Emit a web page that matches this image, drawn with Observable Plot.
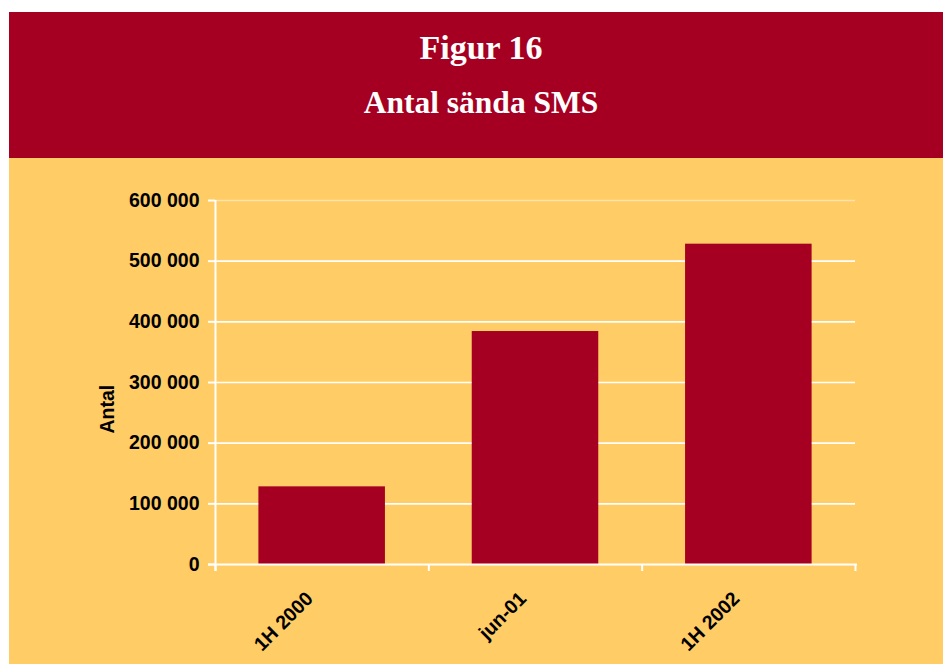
<!DOCTYPE html>
<html>
<head>
<meta charset="utf-8">
<script src="https://cdn.jsdelivr.net/npm/d3@7"></script>
<script src="https://cdn.jsdelivr.net/npm/@observablehq/plot@0.6"></script>
<style>
  html, body { margin: 0; padding: 0; background: #ffffff; width: 943px; height: 664px; overflow: hidden; }
  #header { position: absolute; left: 9px; top: 12px; width: 944px; height: 146px; background: #A50021; }
  #title, #subtitle { position: absolute; left: 0; width: 944px; text-align: center; color: #ffffff;
    font-family: "Liberation Serif", "Times New Roman", serif; font-weight: bold; line-height: 1; white-space: nowrap; }
  #title { top: 19px; font-size: 34px; }
  #subtitle { top: 75px; font-size: 31.5px; }
  #chart { position: absolute; left: 9px; top: 158px; width: 934px; height: 506px; background: #FFCC66; }
  #chart svg { display: block; }
</style>
</head>
<body>
<div id="header"><div id="title"></div><div id="subtitle"></div></div>
<div id="chart"></div>
<script>
const titleText = "Figur 16";
const subtitleText = "Antal sända SMS";
const yLabel = "Antal";
const categories = ["1H 2000", "jun-01", "1H 2002"];
const values = [128000, 384000, 528000];
const yTicks = [0, 100000, 200000, 300000, 400000, 500000, 600000];

document.getElementById("title").textContent = titleText;
document.getElementById("subtitle").textContent = subtitleText;

const data = categories.map((c, i) => ({category: c, index: i, value: values[i]}));
const boundaries = d3.range(categories.length + 1);
const fmt = d => d3.format(",")(d).replace(/,/g, " ");
const RED = "#A50021";
const FONT = 19.5;

const chart = Plot.plot({
  width: 934,
  height: 506,
  marginLeft: 206,
  marginRight: 88,
  marginTop: 42,
  marginBottom: 100,
  x: {domain: [0, categories.length], axis: null},
  y: {domain: [0, 600000], axis: null},
  style: {background: "transparent", fontFamily: "'Liberation Sans', Arial, sans-serif", overflow: "visible"},
  marks: [
    // gridlines
    Plot.ruleY(yTicks.filter(d => d > 0), {y: d => d, x1: 0, x2: categories.length, stroke: "#ffffff", strokeWidth: 1.6,
      strokeOpacity: d => d === 600000 ? 0.45 : 1}),
    // bars
    Plot.rect(data, {x1: "index", x2: d => d.index + 1, y1: 0, y2: "value", fill: RED, insetLeft: 43.4, insetRight: 43.4}),
    // y axis line
    Plot.ruleX([0], {x: d => d, y1: 600000, y2: 0, insetBottom: -7, stroke: "#ffffff", strokeWidth: 2}),
    // x axis line
    Plot.ruleY([0], {y: d => d, x1: 0, x2: categories.length, insetLeft: -7, insetRight: -2, stroke: "#ffffff", strokeWidth: 2}),
    // y tick marks
    Plot.ruleY(yTicks, {y: d => d, x1: 0, x2: 0, insetLeft: -7, stroke: "#ffffff", strokeWidth: 2}),
    // x tick marks at category boundaries
    Plot.ruleX(boundaries, {x: d => d, y1: 0, y2: 0, insetBottom: -7, stroke: "#ffffff", strokeWidth: 2}),
    // y tick labels
    Plot.text(yTicks, {x: 0, y: d => d, text: fmt, textAnchor: "end", dx: -16, fill: "#000000", fontWeight: "bold", fontSize: FONT}),
    // x category labels
    Plot.text(data, {x: d => d.index + 0.5, y: 0, text: "category", rotate: -45, textAnchor: "end", dx: -12.5, dy: 31,
      fill: "#000000", fontWeight: "bold", fontSize: FONT}),
    // y axis label
    Plot.text([yLabel], {frameAnchor: "left", text: d => d, rotate: -90, dx: -108, dy: 51,
      fill: "#000000", fontWeight: "bold", fontSize: FONT})
  ]
});
document.getElementById("chart").appendChild(chart);
</script>
</body>
</html>
